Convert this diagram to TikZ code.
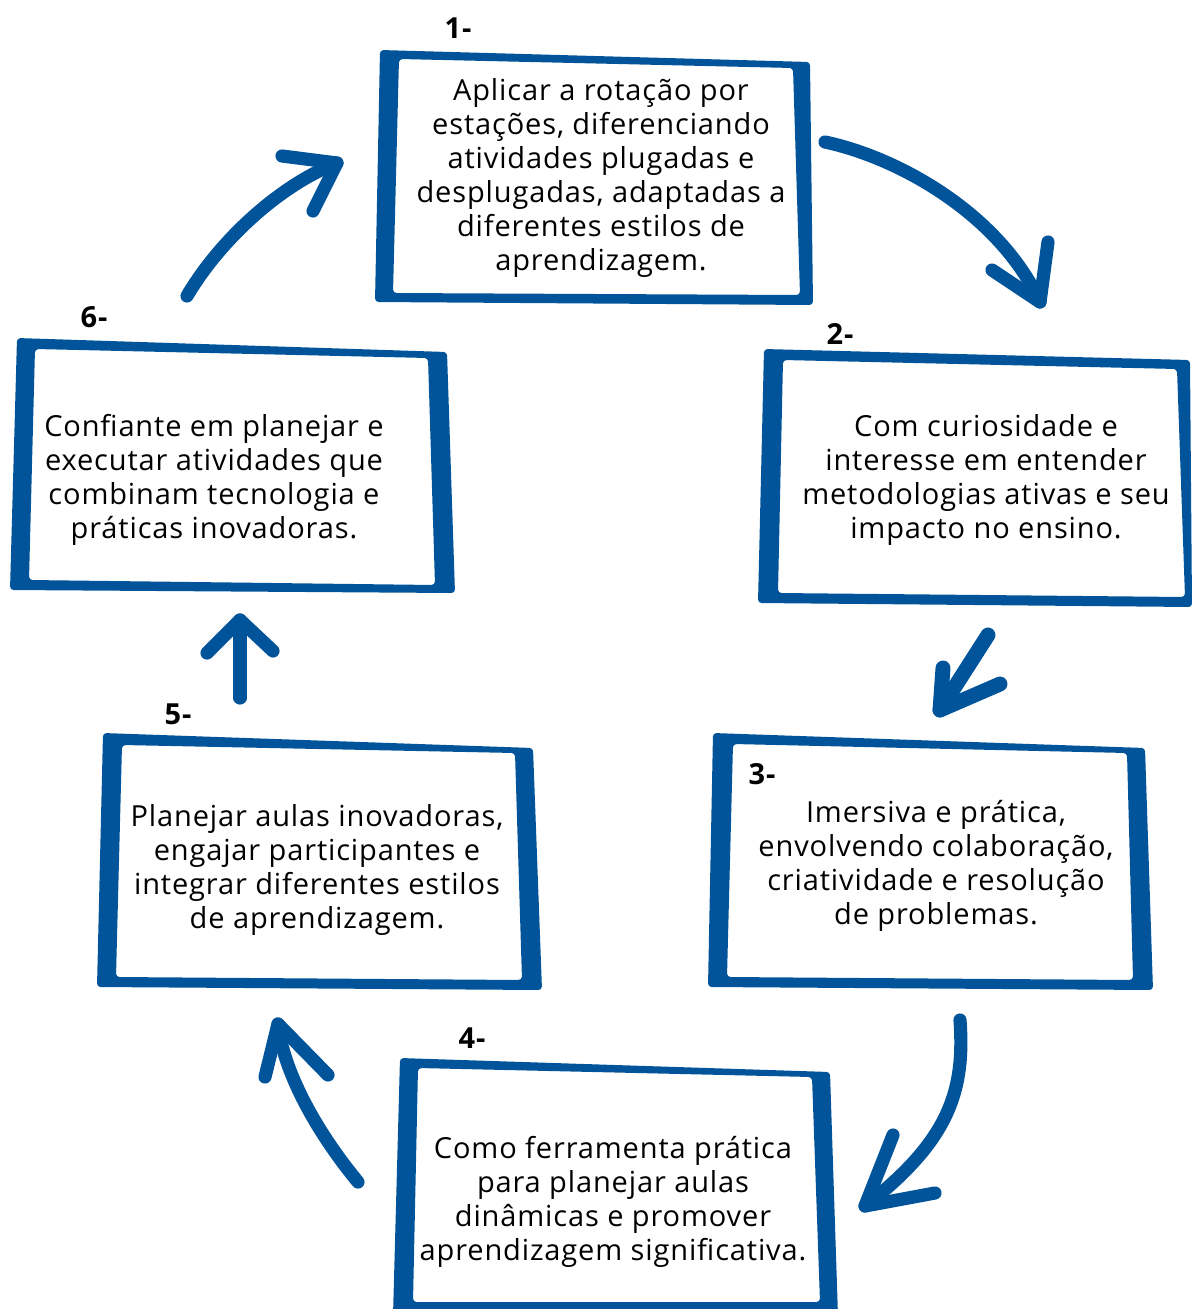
\documentclass[tikz,border=0pt]{standalone}
\usepackage{fontspec}
\setmainfont{Open Sans}[LetterSpace=3]
\usepackage{tikz}
\definecolor{boxblue}{RGB}{2,84,154}

\tikzset{
	boxframe/.style={fill=boxblue, even odd rule, rounded corners=2pt},
	brush/.style={draw=boxblue, line width=7.5pt, line cap=round, line join=round},
	txt/.style={align=center, font=\fontsize{16.5}{19.3}\selectfont, inner sep=0pt},
	num/.style={font=\fontsize{16.5}{18}\selectfont\bfseries, inner sep=0pt}
}

\begin{document}
\begin{tikzpicture}[x=0.02cm, y=-0.02cm]
		\useasboundingbox (0,0) rectangle (1192,1309);
		\clip (0,0) rectangle (1192,1309);

		% frames
		\fill[boxframe] (380,50) -- (810,62) -- (813,305) -- (375,302) -- cycle
			(399,59) -- (793,68) -- (800,295) -- (393,293) -- cycle;
		\fill[boxframe] (764,349) -- (1190,360) -- (1192,607) -- (758,603) -- cycle
			(783,360) -- (1177,369) -- (1185,597) -- (778,593) -- cycle;
		\fill[boxframe] (713,733) -- (1145,748) -- (1153,990) -- (708,987) -- cycle
			(733,744) -- (1127,753) -- (1133,980) -- (727,977) -- cycle;
		\fill[boxframe] (400,1058) -- (830,1072) -- (838,1316) -- (393,1316) -- cycle
			(418,1068) -- (812,1077) -- (820,1302) -- (413,1302) -- cycle;
		\fill[boxframe] (103,733) -- (533,748) -- (542,990) -- (97,987) -- cycle
			(122,745) -- (515,753) -- (522,980) -- (116,977) -- cycle;
		\fill[boxframe] (17,338) -- (447,352) -- (455,593) -- (10,590) -- cycle
			(35,349) -- (428,358) -- (435,585) -- (29,580) -- cycle;

		% texts
		\node[txt] (t1) at (601,178) {Aplicar a rotação por\\estações, diferenciando\\atividades plugadas e\\desplugadas, adaptadas a\\diferentes estilos de\\aprendizagem.};
		\node[txt] (t2) at (986,480) {Com curiosidade e\\interesse em entender\\metodologias ativas e seu\\impacto no ensino.};
		\node[txt] (t3) at (936,866) {Imersiva e prática,\\envolvendo colaboração,\\criatividade e resolução\\de problemas.};
		\node[txt] (t4) at (613,1202) {Como ferramenta prática\\para planejar aulas\\dinâmicas e promover\\aprendizagem significativa.};
		\node[txt] (t5) at (317,870) {Planejar aulas inovadoras,\\engajar participantes e\\integrar diferentes estilos\\de aprendizagem.};
		\node[txt] (t6) at (214,480) {Confiante em planejar e\\executar atividades que\\combinam tecnologia e\\práticas inovadoras.};

		\node[num] (n1) at (458,28) {1-};
		\node[num] (n2) at (840,334) {2-};
		\node[num] (n3) at (762,774) {3-};
		\node[num] (n4) at (472,1038) {4-};
		\node[num] (n5) at (178,714) {5-};
		\node[num] (n6) at (94,317) {6-};

		% arrows
		\coordinate (a1s) at (825,142);
		\coordinate (a1e) at (1040,302);
		\coordinate (a1l) at (992,270);
		\coordinate (a1r) at (1048,242);
		\draw[brush] (a1s) .. controls (900,158) and (1000,215) .. (a1e);
		\draw[brush] (a1l) -- (a1e) -- (a1r);

		\coordinate (a2s) at (988,635);
		\coordinate (a2e) at (940,710);
		\coordinate (a2l) at (943,668);
		\coordinate (a2r) at (1000,684);
		\draw[brush, line width=8.5pt] (a2s) -- (a2e);
		\draw[brush, line width=8.5pt] (a2l) -- (a2e) -- (a2r);

		\coordinate (a3s) at (960,1020);
		\coordinate (a3e) at (865,1206);
		\coordinate (a3l) at (893,1135);
		\coordinate (a3r) at (935,1193);
		\draw[brush] (a3s) .. controls (965,1090) and (950,1140) .. (a3e);
		\draw[brush] (a3l) -- (a3e) -- (a3r);

		\coordinate (a4s) at (358,1182);
		\coordinate (a4e) at (278,1024);
		\coordinate (a4l) at (265,1077);
		\coordinate (a4r) at (328,1075);
		\draw[brush] (a4s) .. controls (315,1130) and (283,1070) .. (a4e);
		\draw[brush] (a4l) -- (a4e) -- (a4r);

		\coordinate (a5s) at (240,698);
		\coordinate (a5e) at (240,620);
		\coordinate (a5l) at (207,653);
		\coordinate (a5r) at (273,651);
		\draw[brush] (a5s) -- (a5e);
		\draw[brush] (a5l) -- (a5e) -- (a5r);

		\coordinate (a6s) at (187,296);
		\coordinate (a6e) at (337,163);
		\coordinate (a6l) at (282,156);
		\coordinate (a6r) at (313,211);
		\draw[brush] (a6s) .. controls (220,240) and (280,185) .. (a6e);
		\draw[brush] (a6l) -- (a6e) -- (a6r);
	\end{tikzpicture}
\end{document}
